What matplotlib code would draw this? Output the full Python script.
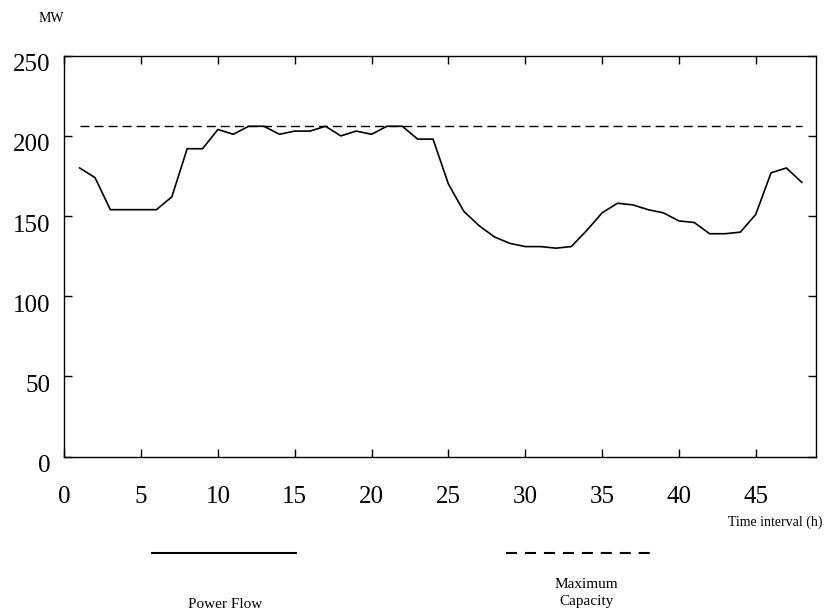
"""
plot.py
Power flow vs maximum line capacity over 48 time intervals.
"""

import matplotlib
matplotlib.use("Agg")
import matplotlib.pyplot as plt
import matplotlib.transforms as mtransforms
from matplotlib.lines import Line2D

# data
hours = list(range(1, 49))
power_flow = [180, 174, 154, 154, 154, 154, 162, 192, 192, 204,
              201, 206, 206, 201, 203, 203, 206, 200, 203, 201,
              206, 206, 198, 198, 170, 153, 144, 137, 133, 131,
              131, 130, 131, 141, 152, 158, 157, 154, 152, 147,
              146, 139, 139, 140, 151, 177, 180, 171]
max_capacity = 206
x_ticks = [0, 5, 10, 15, 20, 25, 30, 35, 40, 45]
y_ticks = [0, 50, 100, 150, 200, 250]

plt.rcParams.update({
    "font.family": "Liberation Serif",
    "axes.linewidth": 1.0,
})

fig = plt.figure(figsize=(8.26, 6.14), dpi=100)
ax = fig.add_axes([0.0778, 0.2562, 0.9102, 0.6531])

ax.plot(hours, power_flow, color="black", linewidth=1.2)
ax.plot([hours[0], hours[-1]], [max_capacity, max_capacity],
        color="black", linewidth=1.0, linestyle=(0, (6.5, 3.6)))

ax.set_xlim(0, 48.93)
ax.set_ylim(0, 250)
ax.set_xticks(x_ticks)
ax.set_yticks(y_ticks)
ax.tick_params(direction="in", length=6, width=1.0, labelsize=18,
               top=True, right=True)
ax.tick_params(axis="x", pad=21)
ax.tick_params(axis="y", pad=10)

# y labels sit slightly below their ticks in the original
offset = mtransforms.ScaledTranslation(0, -7 / 100, fig.dpi_scale_trans)
for label in ax.get_yticklabels():
    label.set_transform(label.get_transform() + offset)

fig.text(51 / 826, 1 - 19 / 614, "MW", fontsize=10, ha="center", va="center")
fig.text(823 / 826, 1 - 522 / 614, "Time interval (h)", fontsize=10,
         ha="right", va="center")

# hand-drawn legend under the chart
legend_y = 1 - 553 / 614
fig.add_artist(Line2D([152 / 826, 296 / 826], [legend_y, legend_y],
                      color="black", linewidth=1.5))
fig.add_artist(Line2D([506 / 826, 652 / 826], [legend_y, legend_y],
                      color="black", linewidth=1.5, linestyle=(0, (5.3, 3.8))))
fig.text(225 / 826, 1 - 604 / 614, "Power Flow", fontsize=11,
         ha="center", va="center")
fig.text(586 / 826, 1 - 593 / 614, "Maximum\nCapacity", fontsize=11,
         ha="center", va="center", linespacing=1.3)

fig.savefig("out.png", dpi=100)
